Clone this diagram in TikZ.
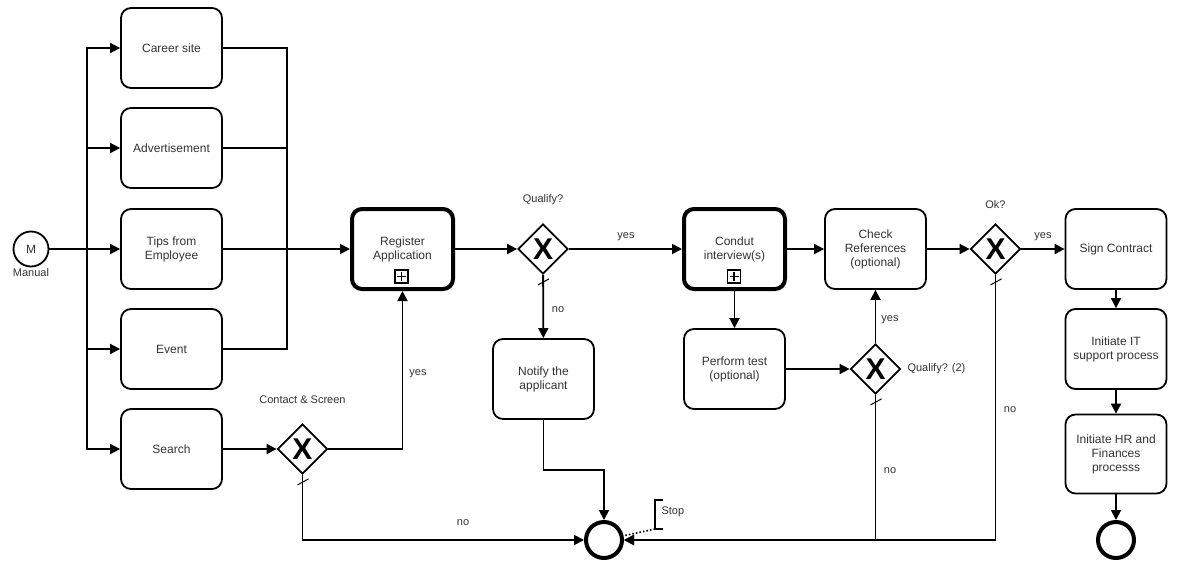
\documentclass[tikz,border=0pt]{standalone}
\usepackage{fontspec}
\setmainfont{Liberation Sans}
\usetikzlibrary{arrows.meta,shapes.geometric}
\definecolor{txt}{HTML}{333333}
\tikzset{
  task/.style={draw, line width=1.8pt, rounded corners=10pt, minimum width=101pt, minimum height=80pt,
    align=center, inner sep=2pt, font=\fontsize{12}{14}\selectfont, text=txt},
  subproc/.style={task, line width=4pt},
  gw/.style={draw, diamond, line width=1.8pt, minimum width=50pt, minimum height=50pt, inner sep=0pt},
  xmark/.style={font=\fontsize{30}{30}\selectfont\bfseries, inner sep=0pt},
  flow/.style={line width=1.8pt, -{Triangle[length=10pt,width=10pt]}},
  plain/.style={line width=1.8pt},
  lbl/.style={font=\fontsize{11}{13}\selectfont, text=txt},
  endev/.style={draw, circle, line width=4pt, minimum size=36pt, inner sep=0pt},
  startev/.style={draw, circle, line width=1.8pt, minimum size=35pt, inner sep=0pt, font=\fontsize{12}{14}\selectfont, text=txt},
  plusbox/.style={draw, line width=1.3pt, minimum size=13pt, inner sep=0pt},
  deflt/.style={line width=1pt},
}
\begin{document}
\begin{tikzpicture}[x=1pt,y=-1pt]
\useasboundingbox (0,0) rectangle (1200,582);

% start
\node[startev] (start) at (31,249) {M};
\node[lbl] (startlbl) at (31,273) {Manual};
\coordinate (split) at (87,249);
\coordinate (merge) at (287,249);

% left column
\node[task] (career) at (171.5,48) {Career site};
\node[task] (adv) at (171.5,148) {Advertisement};
\node[task] (tips) at (171.5,249) {Tips from\\Employee};
\node[task] (event) at (171.5,349) {Event};
\node[task] (search) at (171.5,449) {Search};

% register
\node[subproc] (register) at (402.5,249) {Register\\Application};
\node[plusbox] (plus1) at (401.5,276.5) {};
\draw[line width=1.3pt] ([xshift=-4.5pt]plus1.center) -- ([xshift=4.5pt]plus1.center);
\draw[line width=1.3pt] ([yshift=-4.5pt]plus1.center) -- ([yshift=4.5pt]plus1.center);

% gateway contact & screen
\node[gw] (gw1) at (302.5,449) {};
\node[xmark] (gw1x) at (gw1.center) {X};
\node[lbl] (gw1lbl) at (302.5,400) {Contact \& Screen};

% qualify
\node[gw] (gw2) at (543,249) {};
\node[xmark] (gw2x) at (gw2.center) {X};
\node[lbl] (gw2lbl) at (543,200) {Qualify?};

\node[task] (notify) at (543.5,379) {Notify the\\applicant};

% interview
\node[subproc] (interview) at (734.5,249) {Condut\\interview(s)};
\node[plusbox] (plus2) at (734,276.5) {};
\draw[line width=1.3pt] ([xshift=-4.5pt]plus2.center) -- ([xshift=4.5pt]plus2.center);
\draw[line width=1.3pt] ([yshift=-4.5pt]plus2.center) -- ([yshift=4.5pt]plus2.center);

\node[task] (perform) at (734.5,369) {Perform test\\(optional)};
\node[gw] (gw3) at (875.5,369) {};
\node[xmark] (gw3x) at (gw3.center) {X};
\node[lbl, anchor=west] (gw3lbl) at (904,369) {Qualify? (2)};

\node[task] (check) at (875.5,249) {Check\\References\\(optional)};

\node[gw] (gw4) at (995.5,249) {};
\node[xmark] (gw4x) at (gw4.center) {X};
\node[lbl] (gw4lbl) at (995.5,205) {Ok?};

% right column
\node[task] (sign) at (1116,249) {Sign Contract};
\node[task] (it) at (1116,349) {Initiate IT\\support process};
\node[task, minimum height=79pt] (hr) at (1116,454) {Initiate HR and\\Finances\\processs};
\node[endev] (end2) at (1116,540) {};

% end event
\node[endev] (end) at (604,540) {};

% annotation
\node[lbl, anchor=west] (stop) at (658,512) {Stop};
\coordinate (brt) at (663,500);
\coordinate (brb) at (663,529);
\draw[line width=1.4pt] (brt) -- ++(-8,0) coordinate (brtl) -- (brtl |- brb) coordinate (brbl) -- (brb);
\draw[line width=1.6pt, dotted] (brbl) -- (end);

% flows: start split
\draw[plain] (start) -- (split);
\draw[flow] (split) |- (career);
\draw[flow] (split) |- (adv);
\draw[flow] (split) -- (tips);
\draw[flow] (split) |- (event);
\draw[flow] (split) |- (search);

% merge
\draw[plain] (career) -| (merge);
\draw[plain] (adv) -| (merge);
\draw[plain] (event) -| (merge);
\draw[flow] (tips) -- (register);

% search
\draw[flow] (search) -- (gw1);
\draw[flow] (gw1) -| (register);
\node[lbl] (y1) at (418,374) {yes};
\draw[flow] (gw1) |- (end);
\node[lbl] (n1) at (463,523) {no};
\draw[deflt] ([shift={(-5,10)}]gw1.south) -- ++(11,-6);

% qualify
\draw[flow] (register) -- (gw2);
\draw[flow] (gw2) -- (interview);
\node[lbl] (y2) at (626,237) {yes};
\draw[flow] (gw2) -- (notify);
\node[lbl] (n2) at (558,310) {no};
\draw[deflt] ([shift={(-5,10)}]gw2.south) -- ++(11,-6);
\coordinate (nb) at (543.5,470);
\draw[flow] (notify) -- (nb) -| (end);

% interview
\draw[flow] (interview) -- (check);
\draw[flow] (interview) -- (perform);
\draw[flow] (perform) -- (gw3);
\draw[flow] (gw3) -- (check);
\node[lbl] (y3) at (890,320) {yes};
\draw[flow] (gw3) |- (end);
\node[lbl] (n3) at (890,471) {no};
\draw[deflt] ([shift={(-5,10)}]gw3.south) -- ++(11,-6);

% ok
\draw[flow] (check) -- (gw4);
\draw[flow] (gw4) -- (sign);
\node[lbl] (y4) at (1043,237) {yes};
\draw[flow] (gw4) |- (end);
\node[lbl] (n4) at (1010,410) {no};
\draw[deflt] ([shift={(-5,10)}]gw4.south) -- ++(11,-6);

% right column
\draw[flow] (sign) -- (it);
\draw[flow] (it) -- (hr);
\draw[flow] (hr) -- (end2);
\end{tikzpicture}
\end{document}
